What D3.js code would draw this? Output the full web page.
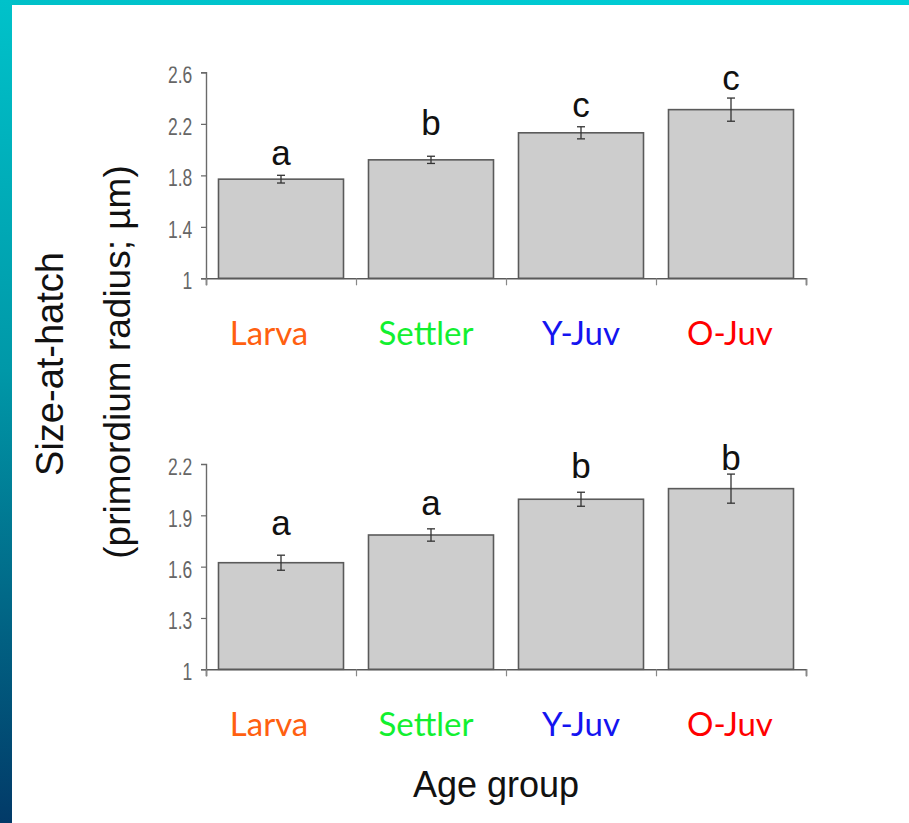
<!DOCTYPE html>
<html>
<head>
<meta charset="utf-8">
<script src="https://cdn.jsdelivr.net/npm/d3@7/dist/d3.min.js"></script>
<style>
  html, body { margin: 0; padding: 0; background: #fff; }
  svg { display: block; }
</style>
</head>
<body>
<svg id="chart" width="909" height="823"></svg>
<script>
// ---- Data ----
const categories = ["Larva", "Settler", "Y-Juv", "O-Juv"];
const categoryColors = ["#FF6010", "#12F030", "#1414F0", "#FF0000"];

// Panel 1 (top)
const topMeans = [1.77, 1.92, 2.13, 2.31];
const topErrors = [0.03, 0.028, 0.047, 0.09];
const topLetters = ["a", "b", "c", "c"];
const topLetterAt = [1.88, 2.113, 2.252, 2.462];
const topTicks = [1, 1.4, 1.8, 2.2, 2.6];

// Panel 2 (bottom)
const bottomMeans = [1.623, 1.785, 1.994, 2.056];
const bottomErrors = [0.044, 0.036, 0.041, 0.085];
const bottomLetters = ["a", "a", "b", "b"];
const bottomLetterAt = [1.785, 1.90, 2.118, 2.165];
const bottomTicks = [1, 1.3, 1.6, 1.9, 2.2];

const yTitle1 = "Size-at-hatch";
const yTitle2 = "(primordium radius; µm)";
const xTitle = "Age group";

// ---- Drawing ----
const svg = d3.select("#chart");
const W = 909, H = 823;

const defs = svg.append("defs");
const gLeft = defs.append("linearGradient").attr("id", "leftGrad")
  .attr("x1", 0).attr("y1", 0).attr("x2", 0).attr("y2", 1);
gLeft.append("stop").attr("offset", "0%").attr("stop-color", "#00C2CA");
gLeft.append("stop").attr("offset", "45%").attr("stop-color", "#0098A8");
gLeft.append("stop").attr("offset", "100%").attr("stop-color", "#023A68");
const gTop = defs.append("linearGradient").attr("id", "topGrad")
  .attr("x1", 0).attr("y1", 0).attr("x2", 1).attr("y2", 0);
gTop.append("stop").attr("offset", "0%").attr("stop-color", "#00C0C8");
gTop.append("stop").attr("offset", "100%").attr("stop-color", "#00D0D8");

svg.append("rect").attr("x", 0).attr("y", 0).attr("width", W).attr("height", H).attr("fill", "#fff");
svg.append("rect").attr("x", 0).attr("y", 0).attr("width", W).attr("height", 5).attr("fill", "url(#topGrad)");
svg.append("rect").attr("x", 0).attr("y", 0).attr("width", 12).attr("height", H).attr("fill", "url(#leftGrad)");

const x = d3.scaleBand().domain(categories).range([206, 806])
  .paddingInner(1 / 6).paddingOuter(1 / 12);

const labelShift = { "Larva": -12, "Settler": -5, "Y-Juv": 0, "O-Juv": -1 };

function panel(opts) {
  const { means, errors, letters, letterAt, ticks, yDomain, yRange, labelBaseline, clipTop, id } = opts;
  const y = d3.scaleLinear().domain(yDomain).range(yRange);
  const g = svg.append("g");

  defs.append("clipPath").attr("id", id)
    .append("rect").attr("x", -400).attr("y", clipTop).attr("width", W + 400).attr("height", H);

  // bars
  g.selectAll("rect.bar").data(categories).join("rect")
    .attr("class", "bar")
    .attr("x", d => x(d))
    .attr("width", x.bandwidth())
    .attr("y", (d, i) => y(means[i]))
    .attr("height", (d, i) => y(yDomain[0]) - y(means[i]))
    .attr("fill", "#CDCDCD")
    .attr("stroke", "#5a5a5a")
    .attr("stroke-width", 1.6);

  // error bars
  const cx = d => x(d) + x.bandwidth() / 2;
  const eb = g.selectAll("g.err").data(categories).join("g").attr("class", "err");
  eb.append("line")
    .attr("x1", cx).attr("x2", cx)
    .attr("y1", (d, i) => y(means[i] + errors[i])).attr("y2", (d, i) => y(means[i] - errors[i]))
    .attr("stroke", "#333").attr("stroke-width", 1.3);
  eb.append("line")
    .attr("x1", d => cx(d) - 4).attr("x2", d => cx(d) + 4)
    .attr("y1", (d, i) => y(means[i] + errors[i])).attr("y2", (d, i) => y(means[i] + errors[i]))
    .attr("stroke", "#333").attr("stroke-width", 1.3);
  eb.append("line")
    .attr("x1", d => cx(d) - 4).attr("x2", d => cx(d) + 4)
    .attr("y1", (d, i) => y(means[i] - errors[i])).attr("y2", (d, i) => y(means[i] - errors[i]))
    .attr("stroke", "#333").attr("stroke-width", 1.3);

  // significance letters
  g.selectAll("text.letter").data(categories).join("text")
    .attr("class", "letter")
    .attr("x", cx)
    .attr("y", (d, i) => y(letterAt[i]))
    .attr("text-anchor", "middle")
    .attr("font-family", "'Liberation Sans', Arial, sans-serif")
    .attr("font-size", 35)
    .attr("fill", "#111")
    .text((d, i) => letters[i]);

  // y axis
  const yAxis = d3.axisLeft(y).tickValues(ticks).tickSize(5).tickPadding(10)
    .tickFormat(d => d === 1 ? "1" : d3.format(".1f")(d));
  const ya = g.append("g").attr("clip-path", `url(#${id})`)
    .append("g").attr("transform", `translate(${x.range()[0]},0)`).call(yAxis);
  ya.select(".domain").attr("stroke", "#6a6a6a").attr("stroke-width", 1.4);
  ya.selectAll(".tick line").attr("stroke", "#6a6a6a").attr("stroke-width", 1.2);
  ya.selectAll(".tick text")
    .attr("font-family", "'Liberation Sans', Arial, sans-serif")
    .attr("font-size", 19).attr("fill", "#666").attr("dy", "0.45em")
    .attr("transform", "scale(0.92,1.25)");

  // x axis (ticks at band boundaries)
  const edge = d3.scaleLinear().domain([0, 4]).range(x.range());
  const xAxis = d3.axisBottom(edge).tickValues([0, 1, 2, 3, 4]).tickSize(7).tickFormat("");
  const xa = g.append("g").attr("transform", `translate(0,${y(yDomain[0])})`).call(xAxis);
  xa.select(".domain").attr("stroke", "#5a5a5a").attr("stroke-width", 1.6);
  xa.selectAll(".tick line").attr("stroke", "#888").attr("stroke-width", 1.2);

  // category labels
  g.selectAll("text.cat").data(categories).join("text")
    .attr("class", "cat")
    .attr("x", d => cx(d) + labelShift[d])
    .attr("y", labelBaseline)
    .attr("text-anchor", "middle")
    .attr("font-family", "Lato, 'Open Sans', sans-serif")
    .attr("font-size", 33)
    .attr("fill", (d, i) => categoryColors[i])
    .text(d => d);
}

panel({
  means: topMeans, errors: topErrors, letters: topLetters, letterAt: topLetterAt,
  ticks: topTicks, yDomain: [1, 2.6], yRange: [278.3, 72.3], labelBaseline: 345,
  clipTop: 66.5, id: "clipTop"
});
panel({
  means: bottomMeans, errors: bottomErrors, letters: bottomLetters, letterAt: bottomLetterAt,
  ticks: bottomTicks, yDomain: [1, 2.2], yRange: [669.3, 464], labelBaseline: 736,
  clipTop: 458.5, id: "clipBottom"
});

// axis titles
svg.append("text")
  .attr("transform", "translate(63,364) rotate(-90)")
  .attr("text-anchor", "middle")
  .attr("font-family", "'Liberation Sans', Arial, sans-serif")
  .attr("font-size", 38).attr("fill", "#111")
  .text(yTitle1);
svg.append("text")
  .attr("transform", "translate(130,362) rotate(-90)")
  .attr("text-anchor", "middle")
  .attr("font-family", "'Liberation Sans', Arial, sans-serif")
  .attr("font-size", 37).attr("fill", "#111")
  .text(yTitle2);
svg.append("text")
  .attr("x", 496).attr("y", 797)
  .attr("text-anchor", "middle")
  .attr("font-family", "'Liberation Sans', Arial, sans-serif")
  .attr("font-size", 36).attr("fill", "#111")
  .text(xTitle);
</script>
</body>
</html>
